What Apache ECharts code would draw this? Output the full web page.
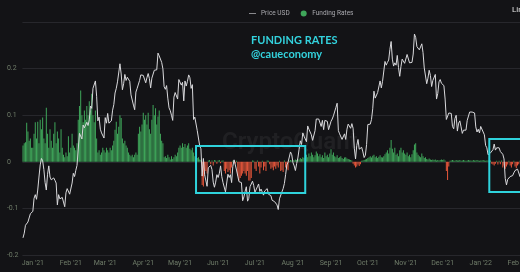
<!DOCTYPE html>
<html>
<head>
<meta charset="utf-8">
<script src="https://cdn.jsdelivr.net/npm/echarts@6/dist/echarts.min.js"></script>
<style>
  html, body { margin: 0; padding: 0; background: #131316; }
  #chart { width: 520px; height: 272px; }
</style>
</head>
<body>
<div id="chart"></div>
<script>
// BTC price (USD, thousands), daily from 2020-12-24
var priceDec20 = [23.7, 24.7, 26.4, 26.3, 27.1, 27.4, 28.9, 29.0];
var priceJan21 = [29.4, 32.2, 33.0, 32.0, 34.0, 36.8, 39.4, 40.8, 40.3, 38.4, 35.6, 34.0, 37.4, 39.2, 36.8, 36.2, 35.8, 36.6, 36.1, 35.5, 30.8, 33.0, 32.1, 32.3, 32.4, 32.5, 30.4, 33.4, 34.3, 34.3, 33.1];
var priceFeb21 = [33.5, 35.5, 37.6, 36.9, 38.2, 39.3, 38.9, 46.2, 46.5, 45.0, 48.0, 47.4, 47.2, 48.6, 47.9, 49.1, 52.1, 51.6, 55.9, 55.9, 57.5, 54.2, 48.9, 49.7, 47.1, 46.3, 46.2, 45.2];
var priceMar21 = [49.6, 48.4, 50.5, 48.4, 48.8, 48.9, 51.2, 52.4, 54.9, 55.9, 57.3, 57.2, 61.2, 59.0, 55.6, 56.9, 58.9, 57.6, 58.3, 58.1, 57.4, 54.5, 54.3, 52.3, 51.3, 55.1, 55.9, 55.8, 57.6, 58.8, 58.8];
var priceApr21 = [58.7, 59.0, 57.1, 58.2, 59.1, 58.0, 56.0, 58.1, 58.1, 59.8, 59.8, 59.9, 63.5, 62.9, 63.3, 61.5, 60.1, 56.3, 55.7, 56.5, 53.8, 51.7, 51.1, 50.1, 49.0, 54.0, 55.0, 54.8, 53.6, 57.8];
var priceMay21 = [57.8, 56.6, 57.2, 53.2, 57.5, 56.4, 57.4, 58.8, 58.2, 55.9, 56.7, 49.2, 49.7, 49.9, 46.8, 46.4, 43.5, 42.9, 37.0, 40.8, 37.3, 37.5, 34.8, 38.8, 38.4, 39.3, 38.4, 35.7, 34.6, 35.7, 37.3];
var priceJun21 = [36.7, 37.6, 39.2, 36.9, 35.6, 35.8, 33.6, 33.4, 37.4, 36.7, 37.3, 35.6, 39.1, 40.5, 40.2, 38.3, 38.1, 35.8, 35.5, 35.6, 31.7, 32.5, 33.7, 34.7, 31.6, 32.2, 34.7, 34.5, 35.9, 35.0];
var priceJul21 = [33.5, 33.8, 34.7, 35.3, 33.7, 34.2, 33.9, 32.9, 33.8, 33.5, 34.3, 33.1, 32.7, 32.8, 31.8, 31.4, 31.5, 31.8, 30.8, 29.8, 32.1, 32.3, 33.6, 34.3, 35.4, 37.3, 39.4, 40.0, 40.0, 42.2, 41.6];
var priceAug21 = [39.9, 39.2, 38.2, 39.7, 40.9, 42.8, 44.6, 43.8, 46.3, 45.6, 45.6, 44.4, 47.8, 47.1, 47.0, 45.9, 44.7, 44.7, 46.8, 49.3, 48.9, 49.3, 49.5, 47.7, 49.0, 47.0, 49.0, 48.9, 48.8, 47.0, 47.2];
var priceSep21 = [48.8, 49.3, 50.0, 49.9, 51.8, 52.7, 46.8, 46.1, 46.4, 44.9, 45.2, 46.1, 44.9, 47.1, 48.2, 47.8, 47.3, 48.3, 47.3, 43.0, 40.7, 43.6, 44.9, 42.8, 42.7, 43.2, 42.2, 41.0, 41.5, 43.8];
var priceOct21 = [48.1, 47.7, 48.2, 49.2, 51.5, 55.3, 53.8, 53.9, 55.0, 54.7, 57.5, 56.0, 57.4, 57.3, 61.7, 60.9, 61.5, 62.0, 64.3, 66.0, 62.2, 60.7, 61.4, 60.9, 63.0, 60.4, 58.5, 60.6, 62.2, 61.9, 61.3];
var priceNov21 = [61.0, 63.2, 62.9, 61.4, 61.0, 61.5, 63.3, 67.6, 66.9, 64.9, 64.9, 64.2, 64.5, 65.5, 63.6, 60.3, 60.4, 56.9, 58.1, 59.8, 58.7, 56.3, 57.6, 57.2, 58.9, 53.6, 54.8, 57.3, 57.8, 57.0];
var priceDec21 = [57.2, 56.5, 53.6, 49.2, 49.4, 50.6, 50.6, 50.5, 47.7, 47.2, 49.4, 50.1, 46.7, 48.4, 48.9, 47.6, 46.2, 46.9, 46.7, 46.9, 49.0, 48.6, 50.8, 50.4, 50.8, 50.6, 50.6, 47.6, 46.5, 47.1, 46.3];
var priceJan22 = [47.7, 47.3, 46.5, 45.9, 43.6, 43.1, 41.6, 41.9, 42.0, 41.8, 42.7, 43.9, 42.6, 43.1, 43.2, 43.1, 42.3, 42.4, 41.7, 40.7, 36.5, 35.1, 36.3, 36.7, 36.9, 37.0, 37.1, 37.7, 38.2, 37.9, 38.5];
var priceFeb22 = [38.7, 36.9, 37.3, 41.6, 41.4, 42.4, 43.8, 44.1, 44.3, 43.6];

// funding rates, daily from 2020-12-24
var fundDec20 = [0.035, 0.04, 0.042, 0.084, 0.065, 0.045, 0.05, 0.03];
var fundJan21 = [0.03, 0.06, 0.085, 0.05, 0.086, 0.04, 0.09, 0.07, 0.095, 0.05, 0.04, 0.116, 0.06, 0.03, 0.07, 0.045, 0.03, 0.06, 0.085, 0.04, 0.065, 0.05, 0.02, 0.07, 0.03, 0.015, 0.01, 0.02, 0.012, 0.055, 0.02];
var fundFeb21 = [0.03, 0.06, 0.035, 0.03, 0.025, 0.04, 0.09, 0.12, 0.153, 0.1, 0.085, 0.11, 0.09, 0.12, 0.1, 0.13, 0.11, 0.146, 0.1, 0.085, 0.11, 0.05, 0.02, 0.025, 0.015, 0.02, 0.03, 0.025];
var fundMar21 = [0.02, 0.03, 0.025, 0.02, 0.03, 0.025, 0.035, 0.045, 0.069, 0.086, 0.06, 0.075, 0.1, 0.094, 0.05, 0.04, 0.045, 0.035, 0.03, 0.02, 0.015, 0.012, 0.015, 0.01, 0.015, 0.02, 0.015, 0.06, 0.075, 0.065, 0.08];
var fundApr21 = [0.105, 0.09, 0.1, 0.08, 0.105, 0.07, 0.06, 0.09, 0.122, 0.1, 0.115, 0.08, 0.097, 0.11, 0.06, 0.045, 0.04, 0.01, 0.012, 0.008, 0.015, 0.01, 0.005, 0.012, 0.006, 0.01, 0.015, 0.012, 0.02, 0.03];
var fundMay21 = [0.035, 0.03, 0.04, 0.032, 0.038, 0.03, 0.035, 0.04, 0.028, 0.025, 0.03, 0.02, 0.012, 0.01, 0.008, 0.01, 0.005, 0.004, -0.05, -0.053, -0.03, -0.02, -0.025, 0.003, 0.004, -0.005, 0.003, -0.008, 0.004, 0.003, -0.004];
var fundJun21 = [0.003, 0.004, -0.003, 0.002, 0.003, -0.02, -0.025, -0.015, -0.022, -0.018, -0.025, -0.012, 0.002, 0.003, -0.004, 0.002, -0.03, -0.04, -0.035, -0.03, -0.025, -0.02, -0.025, -0.03, -0.02, -0.04, -0.04, -0.035, 0.003, 0.002];
var fundJul21 = [-0.015, -0.02, 0.003, -0.01, -0.025, -0.012, 0.002, -0.018, -0.01, -0.02, 0.003, 0.002, -0.005, -0.015, -0.012, -0.018, -0.01, -0.015, -0.008, -0.012, 0.002, -0.02, -0.018, -0.022, 0.003, -0.012, -0.015, -0.018, 0.002, 0.004, 0.003];
var fundAug21 = [0.004, 0.003, 0.005, 0.004, 0.006, 0.005, 0.008, 0.006, 0.01, 0.008, 0.012, 0.015, 0.01, 0.018, 0.012, 0.02, 0.015, 0.01, 0.014, 0.022, 0.018, 0.012, 0.016, 0.01, 0.014, 0.008, 0.02, 0.012, 0.015, 0.01, 0.018];
var fundSep21 = [0.027, 0.015, 0.02, 0.012, 0.01, 0.014, 0.008, 0.01, 0.012, 0.008, 0.006, 0.009, 0.01, 0.007, 0.006, 0.005, 0.004, 0.003, -0.004, -0.008, -0.012, -0.01, -0.006, -0.009, -0.005, 0.002, 0.003, 0.004, 0.005, 0.006];
var fundOct21 = [0.008, 0.01, 0.012, 0.009, 0.013, 0.015, 0.01, 0.012, 0.008, 0.011, 0.014, 0.01, 0.009, 0.012, 0.016, 0.02, 0.025, 0.018, 0.03, 0.047, 0.028, 0.02, 0.03, 0.015, 0.018, 0.012, 0.025, 0.03, 0.02, 0.025, 0.018];
var fundNov21 = [0.015, 0.02, 0.012, 0.015, 0.01, 0.016, 0.025, 0.037, 0.04, 0.02, 0.015, 0.012, 0.01, 0.018, 0.012, 0.008, 0.01, 0.006, 0.005, 0.007, 0.005, 0.004, 0.005, 0.004, 0.005, 0.003, 0.004, 0.003, 0.004, 0.005];
var fundDec21 = [0.004, 0.005, 0.003, -0.02, -0.039, -0.01, 0.002, 0.003, 0.004, 0.003, 0.002, 0.004, 0.003, 0.003, 0.004, 0.002, 0.003, 0.004, 0.003, 0.002, 0.003, 0.004, 0.003, 0.003, 0.002, 0.004, 0.003, 0.003, 0.004, 0.003, 0.002];
var fundJan22 = [0.003, 0.003, 0.004, 0.003, 0.002, 0.003, 0.003, 0.002, 0.003, -0.004, -0.006, -0.008, -0.004, 0.002, -0.006, 0.002, -0.005, 0.003, -0.012, -0.008, -0.015, -0.01, -0.006, 0.002, -0.008, -0.012, -0.005, 0.002, -0.01, -0.014, -0.008];
var fundFeb22 = [-0.005, 0.002, -0.006, 0.003, 0.004, 0.003, 0.005, 0.004, 0.003, 0.004];

var yTicks = ['-0.2', '-0.1', '0', '0.1', '0.2'];
var monthNames = ['Jan', 'Feb', 'Mar', 'Apr', 'May', 'Jun', 'Jul', 'Aug', 'Sep', 'Oct', 'Nov', 'Dec'];

// highlighted windows: [from, to, top rate, bottom rate]
var boxes = [
  ['2021-05-14', '2021-08-11', 0.034, -0.067],
  ['2022-01-08', '2022-02-10', 0.049, -0.065]
];

var price = [].concat(priceDec20, priceJan21, priceFeb21, priceMar21, priceApr21, priceMay21,
  priceJun21, priceJul21, priceAug21, priceSep21, priceOct21, priceNov21, priceDec21, priceJan22, priceFeb22);
var funding = [].concat(fundDec20, fundJan21, fundFeb21, fundMar21, fundApr21, fundMay21,
  fundJun21, fundJul21, fundAug21, fundSep21, fundOct21, fundNov21, fundDec21, fundJan22, fundFeb22);

// one category per day
var days = [];
var d = new Date(Date.UTC(2020, 11, 24));
for (var i = 0; i < price.length; i++) {
  days.push(d.toISOString().slice(0, 10));
  d.setUTCDate(d.getUTCDate() + 1);
}

var chart = echarts.init(document.getElementById('chart'));
var labelColor = '#6f7c69';
var green = '#3fa65a';

chart.setOption({
  backgroundColor: '#131316',
  animation: false,
  legend: {
    left: 244, top: 5,
    itemWidth: 7, itemHeight: 6, itemGap: 11,
    textStyle: { color: '#a9a9ae', fontSize: 6.5, fontFamily: 'Roboto' },
    data: [
      { name: 'Price USD', icon: 'path://M0,4.5 L10,4.5 L10,5.5 L0,5.5 Z', itemStyle: { color: '#bdbdc2' } },
      { name: 'Funding Rates', icon: 'circle', itemStyle: { color: green } }
    ]
  },
  // plot runs past the right edge, as in the cropped original
  grid: { left: 22.4, width: 508, top: 22, bottom: 17, outerBoundsMode: 'none', containLabel: false },
  xAxis: {
    type: 'category',
    data: days,
    axisLine: { show: false },
    axisTick: { show: false },
    axisLabel: {
      color: labelColor, fontSize: 7, fontFamily: 'Roboto', margin: 5,
      hideOverlap: false,
      interval: function (idx, val) { return val.slice(8) === '01'; },
      formatter: function (val) {
        return monthNames[+val.slice(5, 7) - 1] + " '" + val.slice(2, 4);
      }
    },
    splitLine: { show: false }
  },
  yAxis: [{
    type: 'value', min: -0.2, max: 0.3, interval: 0.1,
    axisLine: { show: false }, axisTick: { show: false },
    axisLabel: {
      color: labelColor, fontSize: 7, fontFamily: 'Roboto', align: 'left', margin: 15.5,
      formatter: function (v) {
        var s = String(Math.round(v * 10) / 10);
        return yTicks.indexOf(s) >= 0 ? s : '';
      }
    },
    splitLine: { lineStyle: { color: '#27272c', width: 1 } }
  }, {
    type: 'value', min: 20, max: 70.2, show: false,
    splitLine: { show: false }
  }],
  series: [{
    name: 'Funding Rates',
    type: 'bar',
    data: funding,
    color: green,
    barCategoryGap: '25%',
    itemStyle: {
      color: function (p) { return p.value >= 0 ? green : '#e8573b'; }
    }
  }, {
    name: 'Price USD',
    type: 'line',
    yAxisIndex: 1,
    data: price,
    symbol: 'none',
    z: 3,
    color: '#d9d9dc',
    lineStyle: { color: '#d9d9dc', width: 1 }
  }],
  graphic: [{
    type: 'text', left: 222, top: 131, z: 0,
    style: { text: 'CryptoQuant', fill: 'rgba(255,255,255,0.06)', font: '600 24px Roboto' }
  }, {
    type: 'text', left: 251, top: 35,
    style: { text: 'FUNDING RATES', fill: '#33d2dd', font: 'bold 11px Lato' }
  }, {
    type: 'text', left: 251, top: 49,
    style: { text: '@caueconomy', fill: '#33d2dd', font: 'bold 11px Lato' }
  }, {
    type: 'text', left: 512, top: 6,
    style: { text: 'Linear', fill: '#e0e0e0', font: '8px Roboto' }
  }]
});

// cyan annotation boxes, placed through the chart's own axes
var boxGraphics = boxes.map(function (b, k) {
  var p1 = chart.convertToPixel({ seriesIndex: 0 }, [b[0], b[2]]);
  var p2 = chart.convertToPixel({ seriesIndex: 0 }, [b[1], b[3]]);
  return {
    id: 'box' + k, type: 'rect', z: 10,
    shape: { x: p1[0], y: p1[1], width: p2[0] - p1[0], height: p2[1] - p1[1] },
    style: { fill: 'none', stroke: '#2fd3dc', lineWidth: 2 }
  };
});
chart.setOption({ graphic: boxGraphics });
</script>
</body>
</html>
